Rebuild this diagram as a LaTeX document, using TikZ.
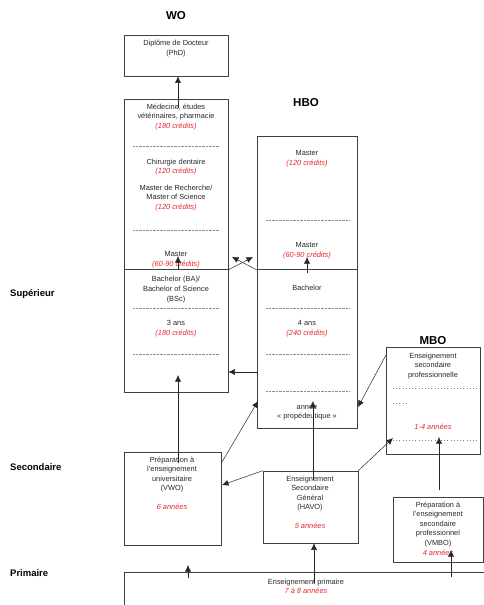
\documentclass[tikz,border=0pt]{standalone}
\usepackage{fontspec}
\setmainfont{Liberation Sans}
\usetikzlibrary{arrows.meta,positioning}
\definecolor{credred}{RGB}{228,40,45}
\tikzset{
  box/.style={draw=black!75, line width=.6pt, inner sep=0pt},
  rule/.style={draw=black!75, line width=.6pt},
  txt/.style={font=\fontsize{7.4}{9.6}\selectfont, align=center, inner sep=0pt, text=black!85},
  title/.style={font=\fontsize{11.5}{12}\selectfont\bfseries, inner sep=0pt},
  level/.style={font=\fontsize{9.5}{10}\selectfont\bfseries, inner sep=0pt, anchor=west},
  dots/.style={black!45, line width=.4pt, dash pattern=on .4pt off 1pt},
  sdots/.style={black!50, line width=.5pt, dash pattern=on 1pt off 2.2pt},
  arr/.style={-{Latex[length=6.5pt,width=6pt]}, line width=.5pt, black!85},
}
\newcommand{\cred}[1]{{\color{credred}\itshape #1}}
\begin{document}
\begin{tikzpicture}[x=1pt,y=-1pt]
		\useasboundingbox (0,0) rectangle (484,605);
		
		\node (wotitle) [title] at (176,16) {WO};
		\node (hbotitle) [title] at (306,103) {HBO};
		\node (mbotitle) [title] at (433,341) {MBO};
		\node (sup) [level] at (10,294) {Supérieur};
		\node (sec) [level] at (10,467) {Secondaire};
		\node (prim) [level] at (10,573) {Primaire};
		
		\node (phd) [box, minimum width=104pt, minimum height=41pt] at (176,55.5) {};
		\node (phdtxt) [txt] at (176,48.5) {Diplôme de Docteur\\(PhD)};
		
		\node (wo) [box, minimum width=104pt, minimum height=293pt] at (176,245.5) {};
		\draw [rule] (124,269) -- (228,269);
		\node (med) [txt] at (176,117) {Médecine, études\\vétérinaires, pharmacie\\\cred{(180 crédits)}};
		\draw [dots] (133,146) -- (219,146);
		\node (chir) [txt] at (176,167) {Chirurgie dentaire\\\cred{(120 crédits)}};
		\node (mrech) [txt] at (176,198) {Master de Recherche/\\Master of Science\\\cred{(120 crédits)}};
		\draw [dots] (133,230) -- (219,230);
		\node (womaster) [txt] at (176,259.5) {Master\\\cred{(60-90 crédits)}};
		\node (wobach) [txt] at (176,289.5) {Bachelor (BA)/\\Bachelor of Science\\(BSc)};
		\draw [dots] (133,308) -- (219,308);
		\node (wo3ans) [txt] at (176,328.5) {3 ans\\\cred{(180 crédits)}};
		\draw [dots] (133,354) -- (219,354);
		
		\node (hbo) [box, minimum width=100pt, minimum height=292pt] at (307,282) {};
		\draw [rule] (257,269) -- (357,269);
		\node (hbomaster) [txt] at (307,158.5) {Master\\\cred{(120 crédits)}};
		\draw [dots] (266,220) -- (349,220);
		\node (hbomaster2) [txt] at (307,250.5) {Master\\\cred{(60-90 crédits)}};
		\node (hbobach) [txt] at (307,288) {Bachelor};
		\draw [dots] (266,308) -- (349,308);
		\node (hbo4ans) [txt] at (307,328.5) {4 ans\\\cred{(240 crédits)}};
		\draw [dots] (266,354) -- (349,354);
		\draw [dots] (266,391) -- (349,391);
		\node (prop) [txt] at (307,412) {année\\« propédeutique »};
		
		\node (mbo) [box, minimum width=94pt, minimum height=107pt] at (433,400.5) {};
		\node (mbotxt) [txt] at (433,366) {Enseignement\\secondaire\\professionnelle};
		\draw [sdots] (393,388) -- (478,388);
		\draw [sdots] (393,403) -- (406,403);
		\node (mboyrs) [txt] at (433,427) {\cred{1-4 années}};
		\draw [sdots] (393,440) -- (478,440);
		
		\node (vwo) [box, minimum width=97pt, minimum height=93pt] at (172.5,498.5) {};
		\node (vwotxt) [txt] at (172,474.5) {Préparation à\\l'enseignement\\universitaire\\(VWO)};
		\node (vwoyrs) [txt] at (172,507) {\cred{6 années}};
		
		\node (havo) [box, minimum width=95pt, minimum height=72pt] at (310.5,507) {};
		\node (havotxt) [txt] at (310,493.5) {Enseignement\\Secondaire\\Général\\(HAVO)};
		\node (havoyrs) [txt] at (310,526) {\cred{5 années}};
		
		\node (vmbo) [box, minimum width=90pt, minimum height=65pt] at (438,529.5) {};
		\node (vmbotxt) [txt] at (438,528.5) {Préparation à\\l'enseignement\\secondaire\\professionnel\\(VMBO)\\\cred{4 années}};
		
		\node (primary) [box, minimum width=380pt, minimum height=60pt] at (314,602) {};
		\node (primtxt) [txt] at (306,586.5) {Enseignement primaire\\\cred{7 à 8 années}};
		
		\coordinate (woTop) at (178,108);
		\draw [arr] (woTop) -- (phd.south -| woTop);
		\coordinate (woBach) at (178,270);
		\coordinate (woMast) at (178,256);
		\draw [arr] (woBach) -- (woMast);
		\coordinate (hboBach) at (307,273);
		\coordinate (hboMast) at (307,257);
		\draw [arr] (hboBach) -- (hboMast);
		\coordinate (woCorner) at (228,270);
		\coordinate (hboCorner) at (257,270);
		\coordinate (toHbo) at (253,257);
		\coordinate (toWo) at (232,257);
		\draw [arr] (woCorner) -- (toHbo);
		\draw [arr] (hboCorner) -- (toWo);
		\coordinate (hboLeft) at (257,372);
		\draw [arr] (hboLeft) -- (wo.east |- hboLeft);
		\coordinate (vwoUp) at (178,463);
		\coordinate (woLow) at (178,375);
		\draw [arr] (vwoUp) -- (woLow);
		\coordinate (vwoRight) at (222,462);
		\coordinate (hboLow) at (258,401);
		\draw [arr] (vwoRight) -- (hboLow);
		\coordinate (vwoIn) at (222,485);
		\draw [arr] (havo.north west) -- (vwoIn);
		\coordinate (havoUp) at (313,480);
		\coordinate (propIn) at (313,401);
		\draw [arr] (havoUp) -- (propIn);
		\coordinate (mboLeft) at (386,355);
		\coordinate (hboRight) at (358,407);
		\draw [arr] (mboLeft) -- (hboRight);
		\coordinate (mboLow) at (393,438);
		\draw [arr] (havo.north east) -- (mboLow);
		\coordinate (vmboUp) at (439,490);
		\coordinate (mboIn) at (439,437);
		\draw [arr] (vmboUp) -- (mboIn);
		\coordinate (primHavo) at (314,583);
		\draw [arr] (primHavo) -- (havo.south -| primHavo);
		\coordinate (primVmbo) at (451,577);
		\coordinate (vmboIn) at (451,550);
		\draw [arr] (primVmbo) -- (vmboIn);
		\coordinate (primVwo) at (188,578);
		\coordinate (vwoLow) at (188,565);
		\draw [arr] (primVwo) -- (vwoLow);
\end{tikzpicture}
\end{document}
